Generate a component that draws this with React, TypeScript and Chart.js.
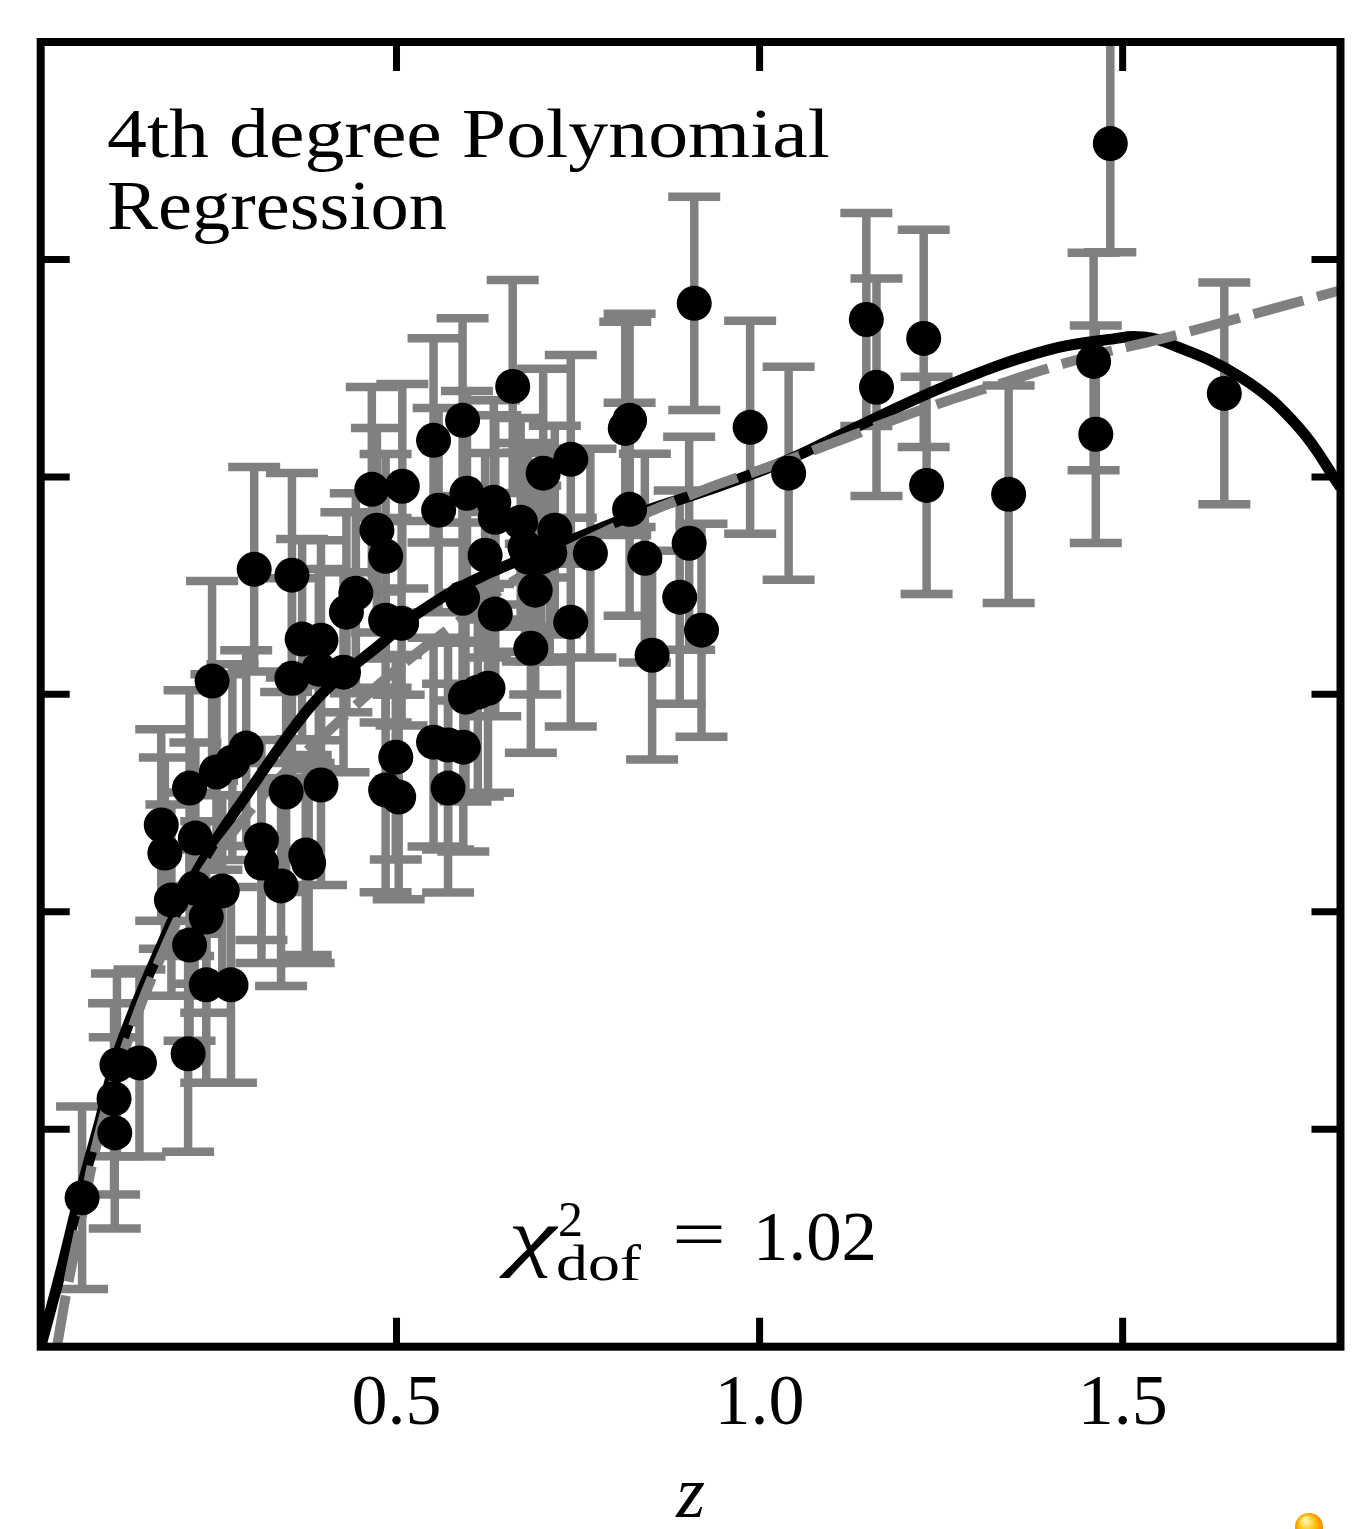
import React, { useEffect, useRef } from "react";
import { Chart, registerables } from "chart.js";

Chart.register(...registerables);

// ---- data ----
const redshift = [
  0.067, 0.112, 0.111, 0.115, 0.146, 0.213, 0.238, 0.272, 0.215, 0.238,
  0.190, 0.222, 0.260, 0.181, 0.176, 0.223, 0.215, 0.252, 0.274, 0.293,
  0.246, 0.304, 0.314, 0.314, 0.341, 0.375, 0.379, 0.348, 0.396, 0.356,
  0.393, 0.427, 0.370, 0.396, 0.356, 0.431, 0.444, 0.466, 0.508, 0.473,
  0.485, 0.485, 0.507, 0.499, 0.485, 0.503, 0.551, 0.591, 0.558, 0.597,
  0.634, 0.636, 0.591, 0.636, 0.622, 0.551, 0.571, 0.592, 0.571, 0.595,
  0.612, 0.626, 0.660, 0.702, 0.740, 0.671, 0.718, 0.767, 0.681, 0.711,
  0.691, 0.685, 0.740, 0.821, 0.815, 0.821, 0.842, 0.903, 0.890, 0.920,
  0.852, 0.910, 0.987, 1.040, 1.147, 1.161, 1.226, 1.230, 1.343, 1.460,
  1.463, 1.483, 1.640, 0.677, 0.699,
];
const observable = [
  0.685, 0.983, 1.140, 1.296, 1.305, 1.347, 1.664, 1.664, 1.847, 1.976,
  2.054, 2.109, 2.096, 2.270, 2.399, 2.339, 2.569, 2.643, 2.688, 2.753,
  3.061, 3.575, 2.330, 2.224, 2.119, 2.261, 2.224, 2.551, 2.583, 3.074,
  3.116, 3.102, 3.254, 3.249, 3.548, 3.378, 3.465, 3.943, 3.957, 3.755,
  3.635, 3.341, 3.327, 2.711, 2.560, 2.528, 4.168, 4.260, 3.847, 3.925,
  3.883, 3.814, 3.442, 3.369, 3.640, 2.780, 2.767, 2.757, 2.569, 2.987,
  3.010, 3.028, 4.416, 4.017, 4.081, 3.791, 3.755, 3.649, 3.631, 3.649,
  3.479, 3.212, 3.332, 4.260, 4.223, 3.851, 3.626, 3.695, 3.447, 3.295,
  3.180, 4.798, 4.228, 4.017, 4.724, 4.412, 4.637, 3.961, 3.920, 4.531,
  4.196, 5.533, 4.384, 3.676, 3.631,
];
const observableError = [
  0.42, 0.44, 0.44, 0.42, 0.43, 0.45, 0.45, 0.45, 0.44, 0.44,
  0.44, 0.44, 0.44, 0.44, 0.44, 0.44, 0.45, 0.45, 0.45, 0.45,
  0.46, 0.47, 0.46, 0.46, 0.46, 0.46, 0.46, 0.46, 0.46, 0.46,
  0.46, 0.46, 0.46, 0.46, 0.47, 0.46, 0.46, 0.47, 0.47, 0.47,
  0.47, 0.47, 0.47, 0.47, 0.47, 0.47, 0.47, 0.47, 0.47, 0.47,
  0.47, 0.47, 0.47, 0.47, 0.47, 0.48, 0.48, 0.48, 0.48, 0.48,
  0.48, 0.48, 0.49, 0.48, 0.48, 0.48, 0.48, 0.48, 0.48, 0.48,
  0.48, 0.48, 0.48, 0.49, 0.49, 0.49, 0.48, 0.49, 0.49, 0.49,
  0.48, 0.49, 0.49, 0.49, 0.49, 0.50, 0.50, 0.50, 0.50, 0.50,
  0.50, 0.50, 0.51, 0.48, 0.48,
];

// 4th degree polynomial fit (black solid)
const polyZ = [
  0.01, 0.0365, 0.0639, 0.0913, 0.1188, 0.1736, 0.2285, 0.3011, 0.3615, 0.4026,
  0.4849, 0.5302, 0.6124, 0.7496, 0.8456, 0.9279, 1.0376, 1.1295, 1.2625, 1.3955,
  1.4915, 1.52, 1.556, 1.6629, 1.7425, 1.8,
];
const polyY = [
  0.0, 0.331, 0.699, 1.034, 1.374, 1.824, 2.206, 2.574, 2.86, 3.02,
  3.25, 3.375, 3.534, 3.722, 3.847, 3.938, 4.076, 4.223, 4.426, 4.582,
  4.637, 4.645, 4.623, 4.458, 4.228, 3.952,
];

// reference model (grey dashed)
const modelZ = [
  0.0324, 0.0461, 0.0639, 0.0886, 0.1256, 0.1736, 0.2285, 0.297, 0.3519, 0.3971,
  0.489, 0.5754, 0.6673, 0.777, 0.9141, 1.0376, 1.209, 1.316, 1.449, 1.556,
  1.6629, 1.8,
];
const modelY = [
  0.0, 0.262, 0.551, 0.951, 1.365, 1.778, 2.146, 2.459, 2.661, 2.803,
  3.084, 3.309, 3.534, 3.732, 3.929, 4.076, 4.292, 4.412, 4.55, 4.637,
  4.733, 4.858,
];

const xTickValues = [0.5, 1.0, 1.5];
const yTickValues = [1, 2, 3, 4, 5];
const annotationLines = ["4th degree Polynomial", "Regression"];
const chiValue = "1.02";
const xAxisTitle = "z";

// ---- layout ----
const W = 1358;
const H = 1529;
const FRAME = { left: 40.7, right: 1345.3, top: 42, bottom: 1346.7 };
const SERIF = "'Liberation Serif', 'Times New Roman', serif";

const errorBarPlugin = {
  id: "errorBars",
  beforeDatasetsDraw(chart: any) {
    const { ctx, chartArea, scales } = chart;
    const x = scales.x;
    const y = scales.y;
    ctx.save();
    ctx.beginPath();
    ctx.rect(chartArea.left, chartArea.top, chartArea.right - chartArea.left, chartArea.bottom - chartArea.top);
    ctx.clip();
    ctx.strokeStyle = "#808080";
    ctx.lineWidth = 8.5;
    ctx.lineCap = "butt";
    const half = 26;
    for (let i = 0; i < redshift.length; i++) {
      const px = x.getPixelForValue(redshift[i]);
      const yt = y.getPixelForValue(observable[i] + observableError[i]);
      const yb = y.getPixelForValue(observable[i] - observableError[i]);
      ctx.beginPath();
      ctx.moveTo(px, yt);
      ctx.lineTo(px, yb);
      ctx.moveTo(px - half, yt);
      ctx.lineTo(px + half, yt);
      ctx.moveTo(px - half, yb);
      ctx.lineTo(px + half, yb);
      ctx.stroke();
    }
    ctx.restore();
  },
};

function stretchedText(ctx: CanvasRenderingContext2D, text: string, x: number, y: number, width: number) {
  const m = ctx.measureText(text).width;
  ctx.save();
  ctx.translate(x, y);
  ctx.scale(width / m, 1);
  ctx.fillText(text, 0, 0);
  ctx.restore();
}

const framePlugin = {
  id: "frameAndText",
  afterDraw(chart: any) {
    const { ctx, chartArea, scales } = chart;
    const x = scales.x;
    const y = scales.y;
    ctx.save();
    // frame
    ctx.strokeStyle = "#000";
    ctx.lineWidth = 8;
    ctx.strokeRect(chartArea.left, chartArea.top, chartArea.right - chartArea.left, chartArea.bottom - chartArea.top);
    // inward ticks
    ctx.lineWidth = 7;
    const tl = 29;
    ctx.beginPath();
    for (const v of xTickValues) {
      const px = x.getPixelForValue(v);
      ctx.moveTo(px, chartArea.bottom);
      ctx.lineTo(px, chartArea.bottom - tl);
      ctx.moveTo(px, chartArea.top);
      ctx.lineTo(px, chartArea.top + tl);
    }
    for (const v of yTickValues) {
      const py = y.getPixelForValue(v);
      ctx.moveTo(chartArea.left, py);
      ctx.lineTo(chartArea.left + tl, py);
      ctx.moveTo(chartArea.right, py);
      ctx.lineTo(chartArea.right - tl, py);
    }
    ctx.stroke();

    // annotation text
    ctx.fillStyle = "#000";
    ctx.textBaseline = "alphabetic";
    ctx.textAlign = "left";
    ctx.font = `70px ${SERIF}`;
    stretchedText(ctx, annotationLines[0], 107, 157, 723);
    stretchedText(ctx, annotationLines[1], 107, 229, 340);

    // chi^2_dof = 1.02
    ctx.font = `italic 76px ${SERIF}`;
    stretchedText(ctx, "\u03c7", 508, 1262, 48);
    ctx.font = `50px ${SERIF}`;
    ctx.fillText("2", 558, 1236);
    stretchedText(ctx, "dof", 556, 1280, 85);
    ctx.font = `70px ${SERIF}`;
    stretchedText(ctx, "=", 672, 1258, 54);
    stretchedText(ctx, chiValue, 753, 1260, 124);

    // small orange marker at the bottom-right corner of the picture
    const g = ctx.createRadialGradient(1305, 1520, 2, 1309, 1527, 15);
    g.addColorStop(0, "#fff3a0");
    g.addColorStop(0.5, "#ffc107");
    g.addColorStop(1, "#f57c00");
    ctx.fillStyle = g;
    ctx.beginPath();
    ctx.arc(1309, 1527, 14, 0, Math.PI * 2);
    ctx.fill();
    ctx.restore();
  },
};

export default function App() {
  const canvasRef = useRef<HTMLCanvasElement | null>(null);

  useEffect(() => {
    if (!canvasRef.current) return;
    const points = redshift.map((z, i) => ({ x: z, y: observable[i] }));
    const poly = polyZ.map((z, i) => ({ x: z, y: polyY[i] }));
    const model = modelZ.map((z, i) => ({ x: z, y: modelY[i] }));

    const chart = new Chart(canvasRef.current, {
      type: "scatter",
      data: {
        datasets: [
          {
            type: "scatter",
            label: "data",
            data: points,
            pointRadius: 17.5,
            pointHoverRadius: 17.5,
            pointBackgroundColor: "#000",
            pointBorderWidth: 0,
            showLine: false,
            order: 0,
          },
          {
            type: "line",
            label: "model",
            data: model,
            borderColor: "#808080",
            borderWidth: 10,
            borderDash: [52, 14],
            borderCapStyle: "butt",
            pointRadius: 0,
            fill: false,
            tension: 0.4,
            order: 1,
          },
          {
            type: "line",
            label: "poly",
            data: poly,
            borderColor: "#000",
            borderWidth: 11,
            pointRadius: 0,
            fill: false,
            tension: 0.4,
            order: 2,
          },
        ],
      } as any,
      options: {
        responsive: false,
        animation: false,
        devicePixelRatio: 1,
        events: [],
        layout: {
          padding: { top: FRAME.top, left: FRAME.left, right: W - FRAME.right, bottom: 0 },
        },
        plugins: {
          legend: { display: false },
          tooltip: { enabled: false },
        },
        scales: {
          x: {
            type: "linear",
            min: 0.01,
            max: 1.8,
            afterBuildTicks: (scale: any) => {
              scale.ticks = xTickValues.map((v) => ({ value: v }));
            },
            afterFit: (scale: any) => {
              scale.height = H - FRAME.bottom;
            },
            grid: { display: false, drawTicks: false },
            border: { display: false },
            ticks: {
              color: "#000",
              padding: 15,
              maxRotation: 0,
              autoSkip: false,
              font: { family: SERIF, size: 72 },
              callback: (v: any) => Number(v).toFixed(1),
            },
            title: {
              display: true,
              text: xAxisTitle,
              color: "#000",
              font: { family: SERIF, size: 74, style: "italic", lineHeight: 0.8 },
              padding: { top: 0, bottom: 2 },
            },
          },
          y: {
            type: "linear",
            min: 0,
            max: 6,
            display: false,
          },
        },
      } as any,
      plugins: [errorBarPlugin, framePlugin],
    });
    return () => chart.destroy();
  }, []);

  return (
    <div style={{ position: "absolute", left: 0, top: 0, width: W, height: H, background: "#fff" }}>
      <canvas ref={canvasRef} width={W} height={H} style={{ width: W, height: H, display: "block" }} />
    </div>
  );
}
